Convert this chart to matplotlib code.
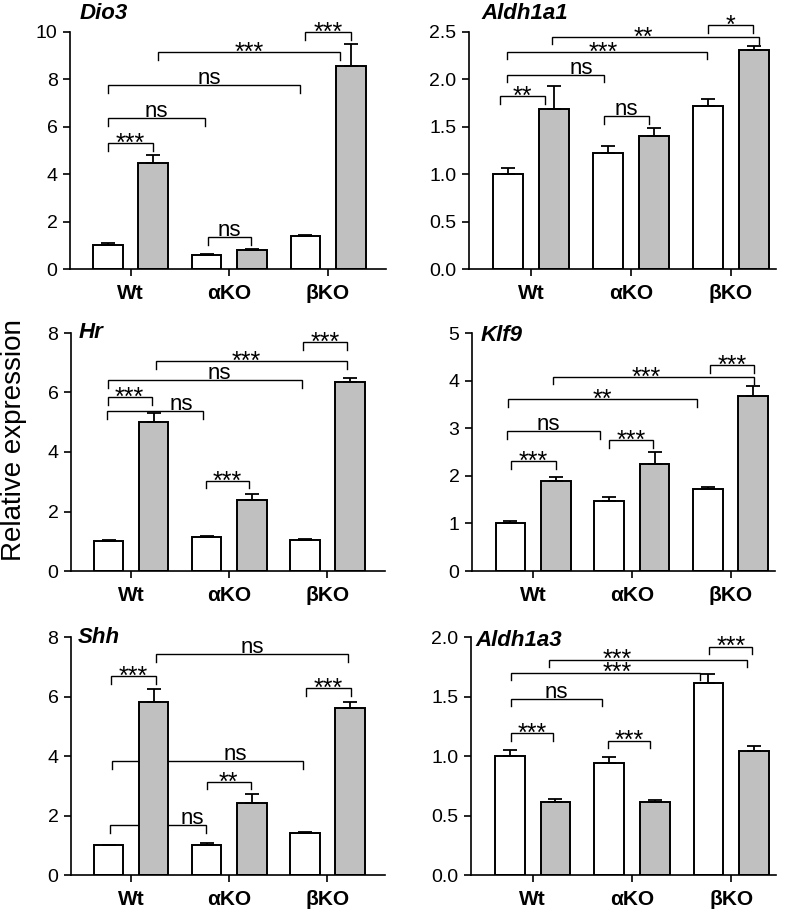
import numpy as np
import matplotlib
matplotlib.use("Agg")
import matplotlib.pyplot as plt
from matplotlib.ticker import FormatStrFormatter

plt.rcParams["font.family"] = ["Liberation Sans", "DejaVu Sans"]

groups = ["Wt", "αKO", "βKO"]
GREY = "#c0c0c0"

# bar means and (upper) SEM, white = control, grey = treated
dio3_white = [1.0, 0.6, 1.4]
dio3_white_err = [0.1, 0.04, 0.05]
dio3_grey = [4.47, 0.8, 8.55]
dio3_grey_err = [0.32, 0.04, 0.95]

aldh1a1_white = [1.0, 1.22, 1.72]
aldh1a1_white_err = [0.07, 0.08, 0.07]
aldh1a1_grey = [1.69, 1.40, 2.31]
aldh1a1_grey_err = [0.24, 0.09, 0.04]

hr_white = [1.0, 1.15, 1.03]
hr_white_err = [0.04, 0.03, 0.03]
hr_grey = [5.0, 2.39, 6.35]
hr_grey_err = [0.31, 0.2, 0.13]

klf9_white = [1.0, 1.47, 1.72]
klf9_white_err = [0.04, 0.09, 0.05]
klf9_grey = [1.89, 2.25, 3.68]
klf9_grey_err = [0.08, 0.25, 0.2]

shh_white = [1.0, 1.0, 1.4]
shh_white_err = [0.01, 0.07, 0.05]
shh_grey = [5.82, 2.41, 5.62]
shh_grey_err = [0.42, 0.31, 0.18]

aldh1a3_white = [1.0, 0.94, 1.61]
aldh1a3_white_err = [0.05, 0.05, 0.08]
aldh1a3_grey = [0.61, 0.61, 1.04]
aldh1a3_grey_err = [0.03, 0.02, 0.04]

# significance brackets: (x1, x2, y, label, label_x or None)
dio3_sig = [(-0.23, 0.23, 5.3, "***", None), (-0.23, 0.75, 6.37, "ns", None),
            (-0.23, 1.72, 7.76, "ns", 0.8), (0.28, 2.12, 9.15, "***", None),
            (1.77, 2.23, 10.0, "***", None), (0.78, 1.22, 1.35, "ns", None)]
aldh1a1_sig = [(-0.31, 0.14, 1.82, "**", None), (-0.24, 0.73, 2.05, "ns", 0.5),
               (-0.24, 1.76, 2.29, "***", 0.72), (0.21, 2.28, 2.45, "**", 1.12),
               (1.77, 2.22, 2.57, "*", None), (0.73, 1.18, 1.61, "ns", None)]
hr_sig = [(-0.24, 0.21, 5.85, "***", None), (-0.25, 0.73, 5.38, "ns", 0.51),
          (-0.24, 1.74, 6.42, "ns", 0.9), (0.25, 2.2, 7.06, "***", 1.17),
          (1.75, 2.2, 7.7, "***", None), (0.76, 1.2, 3.03, "***", None)]
klf9_sig = [(-0.22, 0.23, 2.31, "***", None), (-0.27, 0.68, 2.94, "ns", 0.15),
            (0.77, 1.21, 2.75, "***", None), (-0.26, 1.66, 3.61, "**", None),
            (0.2, 2.24, 4.08, "***", 1.15), (1.79, 2.24, 4.33, "***", None)]
shh_sig = [(-0.21, 0.25, 6.69, "***", None), (0.25, 2.21, 7.42, "ns", None),
           (1.78, 2.24, 6.28, "***", None), (-0.2, 1.75, 3.83, "ns", 1.06),
           (-0.22, 0.76, 1.68, "ns", 0.62), (0.77, 1.22, 3.13, "**", None)]
aldh1a3_sig = [(-0.22, 0.21, 1.19, "***", None), (0.76, 1.18, 1.13, "***", None),
               (-0.22, 0.7, 1.48, "ns", None), (-0.22, 1.69, 1.7, "***", 0.85),
               (0.17, 2.16, 1.81, "***", 0.85), (1.78, 2.21, 1.92, "***", None)]

panels = [
    ("Dio3", dio3_white, dio3_white_err, dio3_grey, dio3_grey_err, dio3_sig, 10, 2, "%d"),
    ("Aldh1a1", aldh1a1_white, aldh1a1_white_err, aldh1a1_grey, aldh1a1_grey_err, aldh1a1_sig, 2.5, 0.5, "%.1f"),
    ("Hr", hr_white, hr_white_err, hr_grey, hr_grey_err, hr_sig, 8, 2, "%d"),
    ("Klf9", klf9_white, klf9_white_err, klf9_grey, klf9_grey_err, klf9_sig, 5, 1, "%d"),
    ("Shh", shh_white, shh_white_err, shh_grey, shh_grey_err, shh_sig, 8, 2, "%d"),
    ("Aldh1a3", aldh1a3_white, aldh1a3_white_err, aldh1a3_grey, aldh1a3_grey_err, aldh1a3_sig, 2.0, 0.5, "%.1f"),
]

# axes boxes in pixels (left, right, top, bottom) and gene-name position in axes fraction
W, H = 789, 913
boxes = [(70, 386, 32, 269), (469, 776, 32, 269),
         (71, 385, 333, 571), (472, 775, 333, 571),
         (71, 385, 637, 875), (471, 776, 637, 875)]
title_pos = [(0.03, 1.076), (0.04, 1.076), (0.025, 1.0), (0.027, 0.99), (0.02, 1.0), (0.013, 0.985)]
xlims = [(-0.613, 2.587), (-0.62, 2.45)]

fig = plt.figure(figsize=(W / 100, H / 100), dpi=100)
x = np.arange(len(groups))
bw = 0.30
off = 0.23

for i, (name, wv, we, gv, ge, sig, ymax, step, fmt) in enumerate(panels):
    l, r, t, b = boxes[i]
    ax = fig.add_axes([l / W, 1 - b / H, (r - l) / W, (b - t) / H])
    ax.bar(x - off, wv, bw, color="white", edgecolor="black", linewidth=1.4, zorder=2)
    ax.bar(x + off, gv, bw, color=GREY, edgecolor="black", linewidth=1.4, zorder=2)
    ax.errorbar(x - off, wv, yerr=[np.zeros(3), we], fmt="none", ecolor="black",
                elinewidth=1.3, capsize=5, capthick=1.3, zorder=3)
    ax.errorbar(x + off, gv, yerr=[np.zeros(3), ge], fmt="none", ecolor="black",
                elinewidth=1.3, capsize=5, capthick=1.3, zorder=3)

    tip = 0.032 * ymax
    for x1, x2, y, lab, lx in sig:
        ax.plot([x1, x1, x2, x2], [y - tip, y, y, y - tip], color="black", lw=1.0,
                zorder=1, clip_on=False, solid_joinstyle="miter")
        tx = (x1 + x2) / 2 if lx is None else lx
        if lab == "ns":
            dy, fs = 0.8, 16
        else:
            dy, fs = -5.5, 18
        ax.annotate(lab, (tx, y), xytext=(0, dy), textcoords="offset points",
                    ha="center", va="baseline", fontsize=fs, zorder=5,
                    annotation_clip=False)

    ax.set_xlim(*xlims[i % 2])
    ax.set_ylim(0, ymax)
    ax.set_yticks(np.arange(0, ymax + step / 2, step))
    ax.yaxis.set_major_formatter(FormatStrFormatter(fmt))
    ax.set_xticks(x)
    ax.set_xticklabels(groups, fontweight="bold", fontsize=15)
    ax.tick_params(axis="y", labelsize=14, direction="out", length=5, width=1.2, pad=4)
    ax.tick_params(axis="x", direction="out", length=5, width=1.2, pad=6)
    for s in ["top", "right"]:
        ax.spines[s].set_visible(False)
    for s in ["left", "bottom"]:
        ax.spines[s].set_linewidth(1.2)
    tx, ty = title_pos[i]
    ax.text(tx, ty, name, transform=ax.transAxes, fontsize=16, fontweight="bold",
            fontstyle="italic", ha="left", va="center", zorder=6)

fig.text(14 / W, 1 - 440 / H, "Relative expression", rotation=90, fontsize=20,
         ha="center", va="center")

fig.savefig("out.png", dpi=100)
